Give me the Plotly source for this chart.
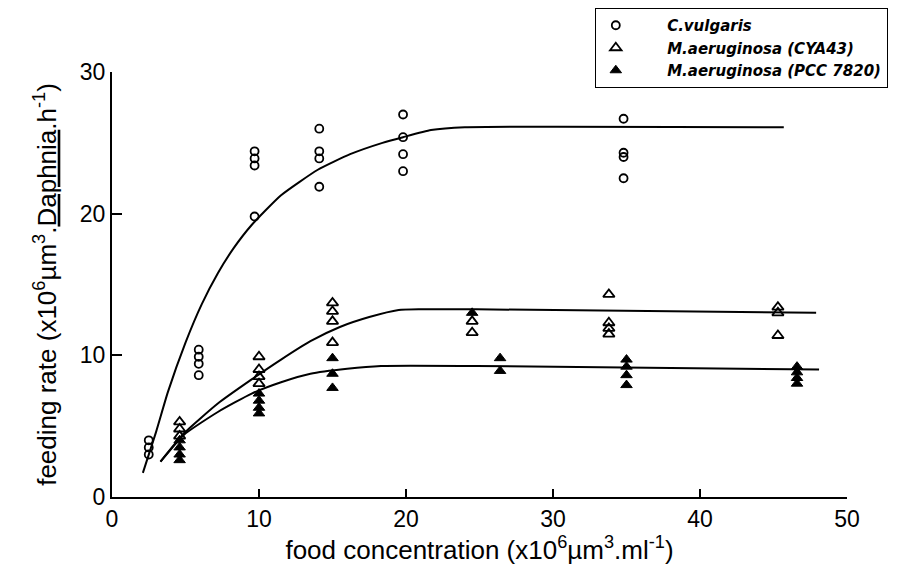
import plotly.graph_objects as go

# ---- data ----
cv_x = [2.5, 2.5, 2.5, 5.9, 5.9, 5.9, 5.9, 9.7, 9.7, 9.7, 9.7,
        14.1, 14.1, 14.1, 14.1, 19.8, 19.8, 19.8, 19.8, 34.8, 34.8, 34.8, 34.8]
cv_y = [4.0, 3.5, 3.0, 10.4, 9.9, 9.4, 8.6, 24.4, 23.9, 23.4, 19.8,
        26.0, 24.4, 23.9, 21.9, 27.0, 25.4, 24.2, 23.0, 26.7, 24.3, 24.0, 22.5]

cya_x = [4.6, 4.6, 4.6, 10.0, 10.0, 10.0, 10.0, 15.0, 15.0, 15.0, 15.0,
         24.5, 24.5, 33.8, 33.8, 33.8, 33.8, 45.3, 45.3, 45.3]
cya_y = [5.3, 4.8, 4.3, 9.9, 9.0, 8.5, 8.0, 13.7, 13.1, 12.4, 10.9,
         12.4, 11.6, 14.3, 12.3, 11.9, 11.5, 13.4, 13.0, 11.4]

pcc_x = [4.6, 4.6, 4.6, 4.6, 10.0, 10.0, 10.0, 10.0, 15.0, 15.0, 15.0,
         24.5, 26.4, 26.4, 35.0, 35.0, 35.0, 35.0, 46.6, 46.6, 46.6, 46.6]
pcc_y = [4.0, 3.5, 3.0, 2.6, 7.3, 6.8, 6.3, 5.9, 9.8, 8.7, 7.7,
         13.0, 9.8, 8.9, 9.7, 9.2, 8.6, 7.9, 9.2, 8.8, 8.4, 8.0]

# fitted curves
cv_fit_x = [2.1, 3.0, 3.8, 5.0, 6.1, 7.2, 8.3, 9.5, 11.5, 14.0, 16.2, 18.4, 19.8, 21.7, 24.0, 45.7]
cv_fit_y = [1.7, 4.6, 7.4, 10.9, 13.6, 15.8, 17.6, 19.2, 21.3, 23.1, 24.2, 25.0, 25.4, 25.9, 26.1, 26.1]

cya_fit_x = [3.3, 4.9, 7.2, 9.5, 11.5, 13.5, 15.5, 17.5, 19.5, 21.0, 24.8, 47.9]
cya_fit_y = [2.5, 4.5, 6.6, 8.3, 9.7, 11.0, 12.0, 12.7, 13.2, 13.25, 13.25, 13.0]

pcc_fit_x = [3.3, 4.9, 7.2, 9.5, 11.5, 13.5, 16.0, 18.3, 24.8, 48.1]
pcc_fit_y = [2.5, 4.4, 6.0, 7.3, 8.1, 8.7, 9.05, 9.25, 9.25, 9.0]

names = ["C.vulgaris", "M.aeruginosa (CYA43)", "M.aeruginosa (PCC 7820)"]
x_ticks = [0, 10, 20, 30, 40, 50]
y_ticks = [0, 10, 20, 30]

FONT = "Arial, Liberation Sans, sans-serif"
pad = "\u00a0" * 6

fig = go.Figure()

line_style = dict(color="black", width=2, shape="spline", smoothing=0.5)
for fx, fy in [(cv_fit_x, cv_fit_y), (cya_fit_x, cya_fit_y), (pcc_fit_x, pcc_fit_y)]:
    fig.add_trace(go.Scatter(x=fx, y=fy, mode="lines", line=line_style,
                             showlegend=False, hoverinfo="skip"))

fig.add_trace(go.Scatter(x=cv_x, y=cv_y, mode="markers", name=pad + names[0],
                         marker=dict(symbol="circle-open", size=8, color="black",
                                     line=dict(width=1.8, color="black"))))
fig.add_trace(go.Scatter(x=cya_x, y=cya_y, mode="markers", name=pad + names[1],
                         marker=dict(symbol="triangle-up-open", size=10, color="black",
                                     line=dict(width=1.8, color="black"))))
fig.add_trace(go.Scatter(x=pcc_x, y=pcc_y, mode="markers", name=pad + names[2],
                         marker=dict(symbol="triangle-up", size=10, color="black",
                                     line=dict(width=1, color="black"))))

tick_font = dict(family=FONT, size=23, color="black")
title_font = dict(family=FONT, size=26, color="black")

fig.update_layout(
    width=900, height=570,
    margin=dict(l=104, r=61, t=64, b=81, autoexpand=False),
    paper_bgcolor="white", plot_bgcolor="white",
    font=dict(family=FONT, color="black"),
    xaxis=dict(range=[0, 50], tickvals=x_ticks, ticktext=[str(v) for v in x_ticks],
               showline=True, linecolor="black", linewidth=2,
               ticks="inside", ticklen=8, tickwidth=1.5, tickcolor="black",
               showgrid=False, zeroline=False, tickfont=tick_font, automargin=False,
               title=dict(text="food concentration (x10<sup>6</sup>\u00b5m<sup>3</sup>.ml<sup>-1</sup>)",
                          font=title_font, standoff=2)),
    yaxis=dict(range=[0, 30], tickvals=y_ticks, ticktext=[str(v) for v in y_ticks],
               showline=True, linecolor="black", linewidth=2,
               ticks="inside", ticklen=10, tickwidth=1.5, tickcolor="black",
               showgrid=False, zeroline=False, tickfont=tick_font, automargin=False,
               title=dict(text="feeding rate (x10<sup>6</sup>\u00b5m<sup>3</sup>.<u>Daphnia</u>.h<sup>-1</sup>)",
                          font=title_font, standoff=16)),
    legend=dict(xref="container", yref="container", x=0.652, y=1.0,
                xanchor="left", yanchor="top",
                bordercolor="black", borderwidth=1, bgcolor="white",
                itemwidth=30, tracegroupgap=0,
                font=dict(family="DejaVu Sans, Arial, sans-serif", size=15,
                          weight="bold", style="italic", color="black")),
)

fig.write_html("out.html")
